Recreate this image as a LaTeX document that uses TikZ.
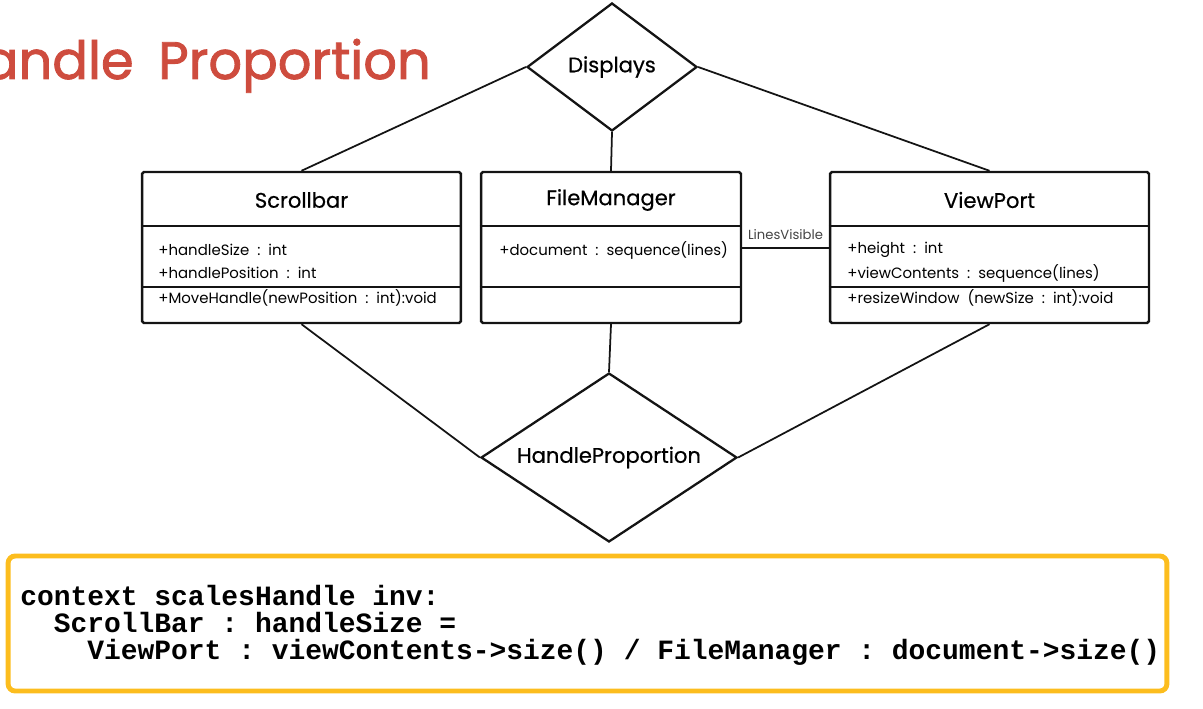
\documentclass[tikz,border=0pt]{standalone}
\usepackage{fontspec}
\usetikzlibrary{shapes.geometric}
\newfontfamily\titlefont{Poppins}[FakeBold=1.6]
\newfontfamily\namefont{Poppins}[FakeBold=0.6]
\newfontfamily\umlfont{Poppins}
\setmonofont{Liberation Mono}
\definecolor{titlered}{RGB}{206,76,62}
\definecolor{oclorange}{RGB}{252,189,30}
\definecolor{ink}{RGB}{20,20,20}
\begin{document}
\begin{tikzpicture}[x=0.02cm,y=-0.02cm,
    classbox/.style={draw=ink,line width=1.4pt,rounded corners=1pt,minimum height=3.02cm},
    relation/.style={diamond,draw=ink,line width=1.3pt,inner sep=0pt,font=\namefont\fontsize{12}{14}\selectfont},
    link/.style={draw=ink,line width=1pt},
    classname/.style={font=\namefont\fontsize{12}{14}\selectfont},
    member/.style={anchor=west,inner sep=0pt,font=\umlfont\fontsize{8.5}{10}\selectfont}]
    \useasboundingbox (0,0) rectangle (1203,709);
    \node[anchor=base east,text=titlered,font=\titlefont\fontsize{30}{36}\selectfont] (title) at (437,79) {Handle\hspace{6pt} Proportion};
    \node[classbox,minimum width=6.38cm] (scroll) at (301.5,247.5) {};
    \node[classbox,minimum width=5.2cm] (fileman) at (611,247.5) {};
    \node[classbox,minimum width=6.38cm] (view) at (989.5,247.5) {};
    \foreach \c in {scroll,fileman,view} {
        \draw[ink,line width=1.3pt] (\c.west |- 0,226) -- (\c.east |- 0,226);
        \draw[ink,line width=1.3pt] (\c.west |- 0,287) -- (\c.east |- 0,287);
    }
    \node[classname] (scrollname) at (scroll.center |- 0,200) {Scrollbar};
    \node[classname] (filemanname) at (fileman.center |- 0,200) {FileManager};
    \node[classname] (viewname) at (view.center |- 0,200) {ViewPort};
    \node[member] (handlesize) at (158,250) {+handleSize\ \ :\ \ int};
    \node[member] (handlepos) at (158,273) {+handlePosition\ \ :\ \ int};
    \node[member] (movehandle) at (158,298) {+MoveHandle(newPosition\ \ :\ \ int):void};
    \node[member] (document) at (499,250) {+document\ \ :\ \ sequence(lines)};
    \node[member] (height) at (847,250) {+height\ \ :\ \ int};
    \node[member] (viewcontents) at (847,273) {+viewContents\ \ :\ \ sequence(lines)};
    \node[member] (resize) at (847,298) {+resizeWindow\ \ (newSize\ \ :\ \ int):void};
    \node[relation,aspect=1.33,minimum width=3.4cm,minimum height=2.56cm] (displays) at (612,67) {Displays};
    \node[relation,aspect=1.51,minimum width=5.12cm,minimum height=3.38cm] (handleprop) at (609,457.5) {HandleProportion};
    \draw[link] (displays.west) -- (scroll.north);
    \draw[link] (displays.south) -- (fileman.north);
    \draw[link] (displays.east) -- (view.north);
    \draw[link] (handleprop.north) -- (fileman.south);
    \draw[link] (handleprop.west) -- (scroll.south);
    \draw[link] (handleprop.east) -- (view.south);
    \draw[link] (fileman.east |- 0,248) -- (view.west |- 0,248)
        node[midway,above=4pt,inner sep=0pt,font=\umlfont\fontsize{7.5}{9}\selectfont,text=ink!80] (linesvisible) {LinesVisible};
    \node[draw=oclorange,line width=2.8pt,rounded corners=4pt,minimum width=23.18cm,minimum height=2.7cm] (oclbox) at (587.5,623.5) {};
    \node[anchor=west,align=left,inner sep=0pt,font=\ttfamily\bfseries\fontsize{15.9}{15.3}\selectfont] (ocl) at (20,625) {context scalesHandle inv:\\
\ \ ScrollBar : handleSize =\\
\ \ \ \ ViewPort : viewContents->size() / FileManager : document->size()};
\end{tikzpicture}
\end{document}
